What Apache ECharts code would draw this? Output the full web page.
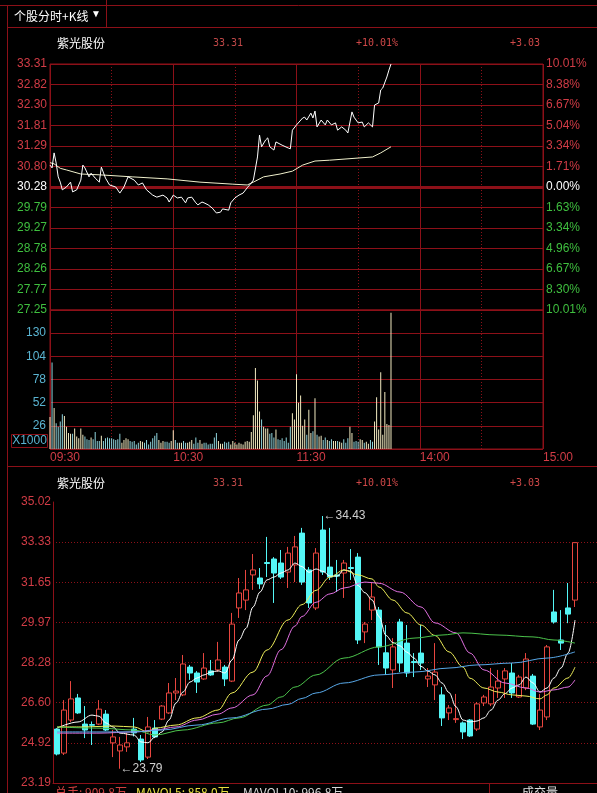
<!DOCTYPE html>
<html><head><meta charset="utf-8">
<script src="https://cdn.jsdelivr.net/npm/echarts@6/dist/echarts.min.js"></script>
<style>html,body{margin:0;padding:0;background:#000;}#c{width:597px;height:793px;}</style>
</head><body><div id="c"></div>
<script>
// ---------------- data ----------------
const tabTitle = '个股分时+K线';
const stockName = '紫光股份';
const lastPrice = '33.31', changePct = '+10.01%', changeAmt = '+3.03';
const preClose = 30.28;
const priceTicks = ['27.25','27.77','28.26','28.78','29.27','29.79','30.28','30.80','31.29','31.81','32.30','32.82','33.31'];
const pctTicks = ['10.01%','8.30%','6.67%','4.96%','3.34%','1.63%','0.00%','1.71%','3.34%','5.04%','6.67%','8.38%','10.01%'];
const timeTicks = ['09:30','10:30','11:30','14:00','15:00'];
const volTicks = ['','26','52','78','104','130',''];
const kTicks = ['23.19','24.92','26.60','28.28','29.97','31.65','33.33','35.02'];

// intraday price (minute index from 09:30, afternoon continues after 120)
const priceMinutes = [0,1,2,3,4,5,6,8,10,11,13,15,16,17,19,20,22,24,25,27,29,32,34,36,38,41,43,45,47,50,52,55,57,58,60,62,64,66,67,69,71,72,74,75,77,79,81,83,84,87,88,90,92,94,96,98,99,101,102,103,105,106,107,109,110,113,116,117,118,120,123,124,125,127,128,129,130,132,134,135,137,139,140,142,144,145,147,148,150,152,153,155,157,158,160,161,162,164,165,166];
const prices = [30.82,30.75,31.12,30.87,30.53,30.40,30.21,30.28,30.40,30.16,30.21,30.45,30.82,30.75,30.53,30.62,30.50,30.40,30.77,30.50,30.33,30.28,30.13,30.28,30.53,30.45,30.33,30.38,30.21,30.08,30.03,30.08,30.01,29.91,30.08,30.01,30.03,29.89,30.01,30.03,29.89,29.84,29.91,29.89,29.84,29.76,29.64,29.66,29.74,29.71,29.89,30.01,30.08,30.13,30.26,30.38,30.45,31.02,31.56,31.27,31.44,31.49,31.27,31.19,31.39,31.31,31.24,31.22,31.68,31.81,31.98,32.00,31.93,32.10,31.98,32.15,31.76,31.93,31.81,31.93,31.81,31.86,31.68,31.76,31.68,31.61,32.13,32.00,31.86,31.88,31.76,31.86,31.76,32.30,32.35,32.67,32.72,32.99,33.16,33.31];
const avgMinutes = [0,2,5,8,15,24,40,57,73,89,96,99,104,112,118,123,129,136,157,161,166];
const avgPrices = [30.88,30.85,30.74,30.70,30.60,30.58,30.53,30.48,30.40,30.35,30.33,30.40,30.53,30.60,30.67,30.82,30.92,30.94,31.02,31.12,31.27];
// volume (x1000), one per minute
const volAM = [36,97,46,29,25,31,39,37,25,18,17,17,23,14,12,23,16,14,11,10,13,11,19,9,9,15,9,12,13,12,12,11,10,11,17,7,10,12,11,9,8,9,5,7,9,8,7,10,5,8,12,15,18,10,7,9,8,8,7,9,21,10,7,7,7,9,7,7,8,10,6,13,7,10,6,7,7,5,6,6,13,18,9,6,6,8,7,8,5,9,7,5,7,6,5,8,9,8,19,38,91,77,42,33,25,23,23,17,18,13,22,11,10,12,9,13,7,25,40,33,84];
const volPM = [52,60,26,33,16,44,18,20,57,16,14,15,10,13,10,9,11,9,9,9,8,7,11,7,12,25,18,8,9,8,11,10,7,8,6,10,8,31,58,22,86,16,64,28,27,153];

// daily K-line
const kOpen  = [25.46,24.45,25.84,26.77,25.67,25.65,25.67,26.09,24.88,24.54,24.71,25.46,25.04,24.28,25.50,25.88,26.14,26.98,26.90,28.07,27.82,27.57,27.91,27.95,28.07,27.48,30.56,30.89,31.95,31.82,32.47,32.62,32.45,32.07,32.37,33.71,32.16,30.56,33.84,32.28,31.95,32.03,32.26,32.70,29.55,30.47,30.47,28.67,27.95,29.97,29.08,28.30,28.66,27.57,27.32,26.90,26.14,25.86,25.72,25.84,25.46,26.56,26.52,27.19,27.57,27.82,26.81,27.19,27.69,25.55,25.97,30.39,29.21,30.56,30.89];
const kClose = [24.41,26.26,26.73,26.14,25.42,25.62,26.30,25.42,25.13,24.79,24.88,25.30,24.16,25.55,25.13,26.43,26.98,27.06,28.20,27.82,27.44,28.03,27.74,28.37,27.57,29.88,31.19,31.32,32.16,31.57,32.43,32.03,31.86,32.87,33.13,31.65,30.77,32.87,32.07,31.86,31.90,32.45,32.22,29.21,29.88,31.02,28.92,28.03,28.92,28.24,27.82,28.26,28.24,27.69,27.86,25.93,26.35,25.90,25.34,25.17,26.52,26.81,27.23,27.48,27.91,26.98,27.65,28.41,25.67,26.26,28.92,29.97,29.08,30.30,33.31];
const kLow   = [24.35,24.37,25.76,26.10,25.08,24.79,25.63,25.38,24.28,23.79,24.50,25.15,24.07,24.20,25.08,25.84,26.10,26.68,26.85,27.53,26.98,27.53,27.70,27.87,27.27,27.44,30.14,30.47,31.32,31.36,31.86,30.77,31.78,31.40,31.65,31.53,30.56,30.47,31.95,31.74,31.23,30.98,31.74,29.04,29.08,30.05,28.16,27.74,27.19,27.86,27.65,27.65,27.95,27.23,26.68,25.59,25.84,25.72,25.04,25.13,25.38,26.43,26.43,26.77,26.77,26.77,26.77,27.10,25.63,25.42,25.84,29.90,28.79,29.92,30.60];
const kHigh  = [25.50,26.68,27.48,26.94,26.43,25.78,26.68,26.26,25.42,25.13,25.30,25.93,25.21,25.97,25.84,26.47,27.40,27.61,28.58,28.16,27.90,28.66,28.37,29.13,28.16,30.35,31.82,32.16,32.83,32.24,33.55,32.70,33.00,33.13,33.59,33.93,32.28,33.08,34.43,33.93,32.58,32.58,33.04,32.87,29.97,31.61,30.60,29.84,29.29,30.10,29.84,28.66,29.84,28.03,29.08,27.23,26.47,26.94,25.78,25.88,26.60,26.90,28.03,27.95,28.03,28.24,27.74,28.66,27.78,26.94,29.00,31.32,30.47,31.61,33.31];
// moving averages: [candle index, value]
const ma5  = [[0,25.50],[3,25.76],[5,26.05],[6,26.0],[7,25.72],[8,25.55],[9,25.29],[11,25.21],[12,24.92],[13,24.88],[14,25.13],[15,25.34],[16,25.84],[17,26.56],[18,27.02],[19,27.44],[20,27.61],[21,27.74],[22,27.86],[23,27.91],[24,27.82],[25,28.37],[26,29.21],[27,29.7],[28,30.60],[29,31.23],[30,31.74],[31,31.86],[32,32.03],[33,32.16],[34,32.45],[35,32.3],[36,32.06],[37,32.2],[38,32.1],[39,31.9],[40,31.9],[41,32.16],[42,32.1],[43,31.5],[44,31.2],[45,30.9],[46,30.2],[47,29.4],[48,29.1],[49,28.96],[50,28.7],[51,28.45],[52,28.1],[53,27.9],[54,27.74],[55,27.4],[56,27.0],[57,26.4],[58,25.84],[59,25.76],[60,25.8],[61,25.93],[62,26.26],[63,26.68],[64,26.95],[65,27.19],[66,27.32],[67,27.65],[68,27.4],[69,27.02],[70,27.19],[71,27.61],[72,28.03],[73,28.66],[74,30.05]];
const ma10 = [[0,25.55],[4,25.55],[8,25.59],[11,25.55],[13,25.34],[14,25.5],[17,25.63],[20,25.93],[23,26.26],[25,26.98],[28,27.86],[30,28.79],[33,30.05],[35,30.7],[37,31.3],[39,31.86],[41,32.16],[43,31.95],[45,31.78],[46,31.44],[48,30.89],[50,30.35],[52,29.84],[54,29.4],[56,28.71],[58,28.07],[59,27.6],[61,27.19],[63,27.02],[65,26.90],[67,26.85],[69,26.73],[70,26.90],[71,27.19],[73,27.61],[74,28.07]];
const ma20 = [[0,25.29],[6,25.29],[11,25.34],[14,25.42],[17,25.55],[20,25.84],[23,26.09],[25,26.35],[28,26.90],[30,27.7],[32,28.8],[34,29.8],[35,30.2],[37,30.8],[39,31.15],[41,31.4],[44,31.65],[46,31.6],[49,31.23],[52,30.60],[54,29.93],[57,29.51],[59,28.66],[61,27.95],[64,27.40],[67,27.19],[69,27.02],[71,27.11],[73,27.23],[74,27.53]];
const ma30 = [[0,25.55],[6,25.50],[11,25.42],[14,25.21],[18,25.42],[23,25.72],[26,25.93],[30,26.47],[32,26.81],[34,27.23],[37,27.74],[41,28.45],[46,28.92],[51,29.29],[55,29.42],[58,29.51],[63,29.42],[68,29.34],[71,29.21],[74,29.08]];
const ma60 = [[0,25.34],[6,25.34],[11,25.34],[15,25.42],[20,25.63],[25,25.93],[30,26.3],[33,26.5],[35,26.75],[37,26.98],[41,27.4],[46,27.74],[51,27.86],[56,28.03],[60,28.16],[65,28.24],[70,28.45],[74,28.71]];
const volumeText = ['总手: 909.8万', 'MAVOL5: 858.0万', 'MAVOL10: 996.8万'];

// ---------------- styles ----------------
const RED_LINE = '#8c1018';
const RED_TXT = '#d23c46';
const GREEN_TXT = '#3fbf3f';
const CYAN_TXT = '#5ab4d2';
const SANS = '"Liberation Sans", Arial, sans-serif';
const CJK = '"Noto Sans CJK SC", sans-serif';
const MONO = '"DejaVu Sans Mono", monospace';

const chart = echarts.init(document.getElementById('c'), null, {renderer: 'canvas'});

function pricePairs(ms, ps) { return ms.map((m, i) => [m, ps[i]]); }
function priceAt(m) {
  for (let k = 1; k < priceMinutes.length; k++) {
    if (m <= priceMinutes[k]) {
      const a = priceMinutes[k - 1], b = priceMinutes[k];
      return prices[k - 1] + (prices[k] - prices[k - 1]) * (m - a) / (b - a);
    }
  }
  return prices[prices.length - 1];
}
const volAll = volAM.concat(volPM);
const volData = volAll.map((v, i) => {
  const up = i === 0 ? true : priceAt(i) >= priceAt(i - 1);
  return {value: [i, v], itemStyle: {color: up ? '#f2eac0' : '#8fd4dc'}};
});
const kData = kOpen.map((o, i) => [o, kClose[i], kLow[i], kHigh[i]]);
const kCats = kOpen.map((_, i) => 'D' + (i + 1));
let hiIdx = 0, loIdx = 0;
kHigh.forEach((h, i) => { if (h > kHigh[hiIdx]) hiIdx = i; });
kLow.forEach((l, i) => { if (l < kLow[loIdx]) loIdx = i; });

function signRich(v, arr, off) {
  const s = arr[Math.round(v) + off];
  if (s === undefined) return '';
  return v > 0 ? '{r|' + s + '}' : (v < 0 ? '{g|' + s + '}' : '{w|' + s + '}');
}
const richPM = {
  r: {color: RED_TXT, fontSize: 12, fontFamily: SANS},
  g: {color: GREEN_TXT, fontSize: 12, fontFamily: SANS},
  w: {color: '#ffffff', fontSize: 12, fontFamily: SANS}
};

const solidSplit = {show: true, lineStyle: {color: RED_LINE, width: 1, type: 'solid'}};
const dotSplit = {show: true, lineStyle: {color: RED_LINE, width: 1, type: [1, 2]}};

const maDefs = [[ma5, '#ffffff'], [ma10, '#eeee5a'], [ma20, '#e070e0'], [ma30, '#4cc44c'], [ma60, '#58a8e8']];
const maSeries = maDefs.map(([d, c], k) => {
  const s = {
    type: 'line', xAxisIndex: 7, yAxisIndex: 5, data: d, symbol: 'none', smooth: 0.35,
    smoothMonotone: 'x', lineStyle: {color: c, width: 1}, z: 4, silent: true
  };
  if (k === 0) {
    s.markPoint = {
      symbol: 'circle', symbolSize: 1, itemStyle: {color: 'rgba(0,0,0,0)'},
      label: {show: true, position: 'right', distance: 0, color: '#cfcfcf', fontSize: 12, fontFamily: SANS,
        formatter: p => '\u2190' + p.value},
      data: [
        {coord: [hiIdx, kHigh[hiIdx]], value: kHigh[hiIdx].toFixed(2)},
        {coord: [loIdx, kLow[loIdx]], value: kLow[loIdx].toFixed(2)}
      ]
    };
  }
  return s;
});

function txt(x, y, text, fill, font, align, valign) {
  return {type: 'text', x: x, y: y, silent: true,
    style: {text: text, fill: fill, font: font, textAlign: align || 'left', textVerticalAlign: valign || 'middle'}};
}
function ln(x1, y1, x2, y2, w) {
  return {type: 'line', silent: true, shape: {x1, y1, x2, y2}, style: {stroke: RED_LINE, lineWidth: w || 1}};
}

const option = {
  backgroundColor: '#000000',
  animation: false,
  grid: [
    {left: 50, top: 64, width: 493, height: 246, show: true, borderColor: RED_LINE, borderWidth: 1, backgroundColor: 'transparent'},
    {left: 50, top: 310, width: 493, height: 139, show: true, borderColor: RED_LINE, borderWidth: 1, backgroundColor: 'transparent'},
    {left: 53, top: 502, right: 0, height: 281, show: false},
    {left: 53.5, top: 502, width: 525, height: 281, show: false}
  ],
  xAxis: [
    {gridIndex: 0, type: 'value', min: 0, max: 240, interval: 60, axisLine: {show: false}, axisTick: {show: false}, axisLabel: {show: false}, splitLine: solidSplit},
    {gridIndex: 0, type: 'value', min: 0, max: 240, interval: 30, axisLine: {show: false}, axisTick: {show: false}, axisLabel: {show: false}, splitLine: dotSplit},
    {gridIndex: 1, type: 'value', min: 0, max: 240, interval: 60, axisLine: {show: false}, axisTick: {show: false},
      axisLabel: {show: true, color: RED_TXT, fontSize: 12, fontFamily: SANS, align: 'left', margin: 3, showMinLabel: true, showMaxLabel: true,
        formatter: v => timeTicks[Math.round(v / 60)] || ''}, splitLine: solidSplit, z: 3},
    {gridIndex: 1, type: 'value', min: 0, max: 240, interval: 30, axisLine: {show: false}, axisTick: {show: false}, axisLabel: {show: false}, splitLine: dotSplit},
    {gridIndex: 2, type: 'value', min: 0, max: 1, position: 'top', axisLine: {show: true, lineStyle: {color: RED_LINE}}, axisTick: {show: false}, axisLabel: {show: false}, splitLine: {show: false}},
    {gridIndex: 2, type: 'value', min: 0, max: 1, position: 'bottom', axisLine: {show: false}, axisTick: {show: false}, axisLabel: {show: false}, splitLine: {show: false}},
    {gridIndex: 3, type: 'category', data: kCats, boundaryGap: true, show: false},
    {gridIndex: 3, type: 'value', min: -0.5, max: kOpen.length - 0.5, show: false}
  ],
  yAxis: [
    {gridIndex: 0, type: 'value', min: 27.25, max: 33.31, show: false},
    {gridIndex: 0, type: 'value', min: -6, max: 6, interval: 1, position: 'left', axisLine: {show: false}, axisTick: {show: false},
      axisLabel: {show: true, margin: 3, formatter: v => signRich(v, priceTicks, 6), rich: richPM}, splitLine: solidSplit},
    {gridIndex: 0, type: 'value', min: -6, max: 6, interval: 1, position: 'right', axisLine: {show: false}, axisTick: {show: false},
      axisLabel: {show: true, margin: 3, formatter: v => signRich(v, pctTicks, 6), rich: richPM}, splitLine: {show: false}},
    {gridIndex: 1, type: 'value', min: 0, max: 156, interval: 26, position: 'left', axisLine: {show: false}, axisTick: {show: false},
      axisLabel: {show: true, margin: 4, color: CYAN_TXT, fontSize: 12, fontFamily: SANS, formatter: v => volTicks[Math.round(v / 26)] || ''}, splitLine: solidSplit},
    {gridIndex: 2, type: 'value', min: 0, max: 7, interval: 1, position: 'left', axisLine: {show: true, lineStyle: {color: RED_LINE}}, axisTick: {show: false},
      axisLabel: {show: true, margin: 2, color: RED_TXT, fontSize: 12, fontFamily: SANS, formatter: v => kTicks[Math.round(v)] || ''},
      splitLine: {show: true, showMinLine: false, showMaxLine: false, lineStyle: {color: RED_LINE, width: 1, type: [1, 2]}}},
    {gridIndex: 3, type: 'value', min: 23.19, max: 35.02, show: false}
  ],
  series: [
    {type: 'line', xAxisIndex: 0, yAxisIndex: 0, data: pricePairs(avgMinutes, avgPrices), symbol: 'none', lineStyle: {color: '#f0f0cc', width: 1}, z: 3, silent: true},
    {type: 'line', xAxisIndex: 0, yAxisIndex: 0, data: pricePairs(priceMinutes, prices), symbol: 'none', lineStyle: {color: '#ffffff', width: 1}, z: 4, silent: true,
      markLine: {silent: true, symbol: ['none', 'none'], label: {show: false}, lineStyle: {color: RED_LINE, width: 3, type: 'solid'}, data: [{yAxis: preClose}], z: 2}},
    {type: 'bar', xAxisIndex: 2, yAxisIndex: 3, data: volData, barWidth: 1, silent: true, z: 4},
    {type: 'candlestick', xAxisIndex: 6, yAxisIndex: 5, data: kData, barWidth: 5, silent: true, z: 3,
      itemStyle: {color: '#000000', color0: '#54f6f6', borderColor: '#e8463f', borderColor0: '#54f6f6', borderWidth: 1}}
  ].concat(maSeries),
  graphic: [
    ln(0, 5.5, 597, 5.5), ln(7, 27.5, 597, 27.5), ln(7.5, 5, 7.5, 793), ln(106.5, 0, 106.5, 27), ln(7, 466.5, 597, 466.5),
    ln(53, 783.5, 464, 783.5), ln(489.5, 783, 489.5, 793),
    txt(14, 16, tabTitle, '#ffffff', '12px ' + CJK),
    txt(96, 14, '\u25BC', '#ffffff', '10px ' + SANS, 'center'),
    txt(57, 43, stockName, '#ffffff', '12px ' + CJK),
    txt(213, 43, lastPrice, '#c04848', '10px ' + MONO),
    txt(356, 43, changePct, '#d04848', '10px ' + MONO),
    txt(510, 43, changeAmt, '#d04848', '10px ' + MONO),
    txt(57, 483, stockName, '#ffffff', '12px ' + CJK),
    txt(213, 483, lastPrice, '#c04848', '10px ' + MONO),
    txt(356, 483, changePct, '#d04848', '10px ' + MONO),
    txt(510, 483, changeAmt, '#d04848', '10px ' + MONO),
    {type: 'rect', silent: true, shape: {x: 11.5, y: 434.5, width: 36, height: 13}, style: {fill: 'none', stroke: RED_LINE, lineWidth: 1}},
    txt(29.5, 441, 'X1000', CYAN_TXT, '12px ' + SANS, 'center'),
    txt(55, 786, volumeText[0], '#d04040', '12px ' + CJK, 'left', 'top'),
    txt(136, 786, volumeText[1], '#e8e040', '12px ' + CJK, 'left', 'top'),
    txt(243, 786, volumeText[2], '#d8d8d8', '12px ' + CJK, 'left', 'top'),
    txt(522, 786, '成交量', '#e0e0e0', '12px ' + CJK, 'left', 'top')
  ]
};
chart.setOption(option);
</script>
</body></html>
